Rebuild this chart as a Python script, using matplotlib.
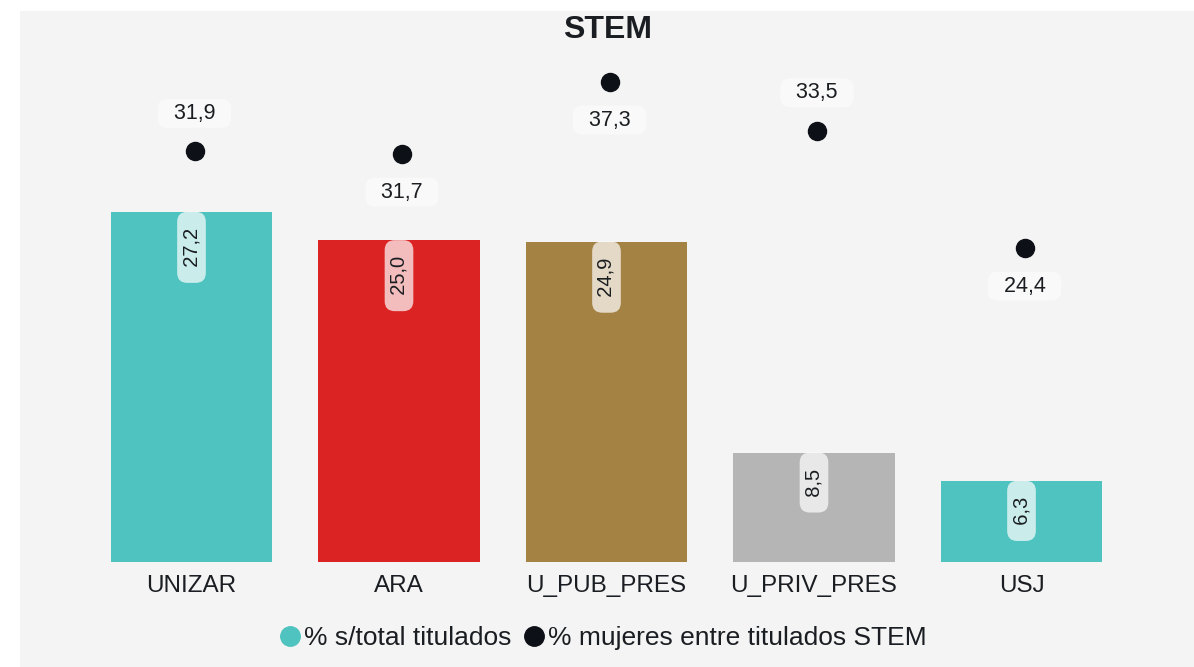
import matplotlib
matplotlib.use("Agg")
import matplotlib.pyplot as plt
from matplotlib.lines import Line2D
from matplotlib.patches import Rectangle
import matplotlib.transforms as mtransforms

plt.rcParams['font.family'] = ['Liberation Sans', 'DejaVu Sans']

# ---- data ----
categories = ["UNIZAR", "ARA", "U_PUB_PRES", "U_PRIV_PRES", "USJ"]
pct_total = [27.2, 25.0, 24.9, 8.5, 6.3]           # % s/total titulados
pct_mujeres = [31.9, 31.7, 37.3, 33.5, 24.4]       # % mujeres entre titulados STEM
title = "STEM"
legend_labels = ["% s/total titulados", "% mujeres entre titulados STEM"]

# ---- styles ----
bar_colors = ["#4FC3BF", "#DC2323", "#A38244", "#B5B5B5", "#4FC3BF"]
dot_color = "#0D1117"
text_color = "#1A1D21"
bg_color = "#F4F4F4"
label_side = [1, -1, -1, 1, -1]   # dot label above (+1) or below (-1)

def fmt(v):
    return f"{v:.1f}".replace(".", ",")

W, H = 1194, 667
fig = plt.figure(figsize=(W / 100, H / 100), dpi=100, facecolor="white")
fig.patches.append(Rectangle((20 / W, 0), 1 - 20 / W, 1 - 11 / H,
                             transform=fig.transFigure, facecolor=bg_color,
                             edgecolor="none", zorder=-10))

left_px, right_px = 87.75, 1125.25
base_px = 562
ytop = 40.0
px_per_unit = 12.87
ax = fig.add_axes([left_px / W, (H - base_px) / H,
                   (right_px - left_px) / W, ytop * px_per_unit / H])
ax.set_facecolor("none")
ax.set_xlim(-0.5, len(categories) - 0.5)
ax.set_ylim(0, ytop)
for s in ax.spines.values():
    s.set_visible(False)
ax.set_yticks([])

x = list(range(len(categories)))
bars = ax.bar(x, pct_total, width=0.776, color=bar_colors, zorder=2)
ax.set_xticks(x)
ax.set_xticklabels(categories, fontsize=17.5, color=text_color)
ax.tick_params(axis="x", length=0, pad=9.5)

# bar labels
for xi, v in zip(x, pct_total):
    ax.annotate("  " + fmt(v) + "  ", xy=(xi, v), xytext=(0, -3.4),
                textcoords="offset points", rotation=90, ha="center", va="top",
                fontsize=14.5, color=text_color, zorder=4,
                bbox=dict(boxstyle="round,pad=0.24,rounding_size=0.5",
                          facecolor="white", alpha=0.7, edgecolor="none"))

# dots
dot_trans = mtransforms.offset_copy(ax.transData, fig=fig, x=3, y=0, units="dots")
ax.plot(x, pct_mujeres, linestyle="none", marker="o", markersize=13,
        color=dot_color, transform=dot_trans, zorder=5, clip_on=False)
for xi, v, side in zip(x, pct_mujeres, label_side):
    ax.annotate("  " + fmt(v) + "  ", xy=(xi, v), xycoords=dot_trans,
                xytext=(0, side * 27.4), textcoords="offset points",
                ha="center", va="center", fontsize=15.5, color=text_color,
                zorder=6, annotation_clip=False,
                bbox=dict(boxstyle="round,pad=0.18,rounding_size=0.45",
                          facecolor="#FAFAFA", alpha=0.95, edgecolor="none"))

fig.text(608 / W, 1 - 29.5 / H, title, ha="center", va="center",
         fontsize=23, fontweight="bold", color=text_color)

handles = [Line2D([], [], linestyle="none", marker="o", markersize=14,
                  color=bar_colors[0]),
           Line2D([], [], linestyle="none", marker="o", markersize=14,
                  color=dot_color)]
fig.legend(handles, legend_labels, loc="center", ncol=2,
           bbox_to_anchor=(603 / W, 1 - 638 / H), frameon=False,
           fontsize=19, handletextpad=0.15, columnspacing=0.45,
           handlelength=0.8, labelcolor=text_color)

fig.savefig("out.png", dpi=100, facecolor="white")
